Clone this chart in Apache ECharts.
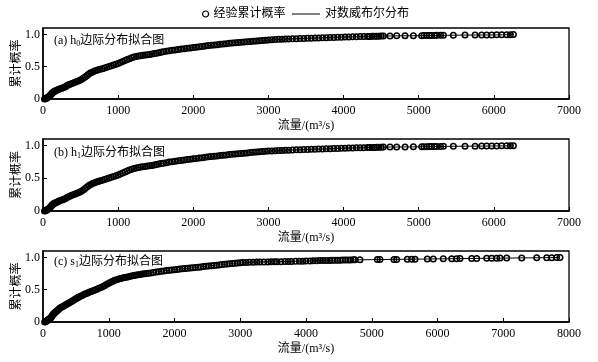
<!DOCTYPE html>
<html>
<head>
<meta charset="utf-8">
<script src="https://cdn.jsdelivr.net/npm/echarts@6/dist/echarts.min.js"></script>
<style>
html,body{margin:0;padding:0;background:#fff;}
#chart{width:598px;height:362px;}
</style>
</head>
<body>
<div id="chart"></div>
<script>
// ---- Data ----
// Panel (a) h0: empirical cumulative probability points
const h0Flow = [20,30,40,50,60,70,80,90,100,110,120,130,140,150,160,175,190,205,220,240,260,280,300,320,340,360,385,410,435,460,485,510,535,560,585,610,635,660,685,710,735,760,790,820,850,880,910,940,970,1000,1030,1060,1090,1120,1150,1180,1210,1240,1270,1300,1330,1360,1390,1420,1450,1480,1510,1540,1570,1600,1640,1680,1720,1760,1800,1840,1880,1920,1960,2000,2040,2080,2120,2160,2200,2240,2280,2320,2360,2400,2440,2480,2520,2560,2600,2640,2680,2720,2760,2800,2840,2880,2920,2960,3000,3045,3090,3135,3180,3225,3270,3320,3370,3420,3470,3520,3570,3620,3670,3720,3770,3820,3870,3920,3970,4020,4070,4120,4170,4220,4270,4320,4350,4380,4410,4440,4470,4500,4530,4618,4707,4818,4929,5040,5070,5107,5140,5173,5210,5240,5290,5329,5461,5616,5750,5838,5905,5972,6038,6105,6171,6220,6260];
const h0Prob = [0.000,0.003,0.008,0.015,0.022,0.030,0.040,0.050,0.062,0.075,0.088,0.100,0.110,0.117,0.123,0.130,0.138,0.146,0.155,0.163,0.172,0.181,0.190,0.208,0.219,0.230,0.241,0.252,0.263,0.275,0.287,0.302,0.320,0.342,0.365,0.388,0.405,0.419,0.432,0.443,0.452,0.461,0.470,0.481,0.492,0.503,0.515,0.527,0.539,0.551,0.565,0.580,0.596,0.611,0.625,0.638,0.649,0.658,0.665,0.671,0.676,0.681,0.686,0.691,0.697,0.703,0.710,0.717,0.724,0.731,0.739,0.747,0.754,0.760,0.767,0.773,0.779,0.785,0.791,0.797,0.803,0.809,0.815,0.821,0.827,0.832,0.837,0.842,0.847,0.852,0.857,0.862,0.867,0.871,0.875,0.879,0.884,0.888,0.892,0.896,0.900,0.904,0.908,0.912,0.915,0.918,0.921,0.924,0.926,0.928,0.930,0.932,0.934,0.936,0.938,0.940,0.942,0.944,0.946,0.948,0.950,0.952,0.954,0.956,0.958,0.960,0.962,0.964,0.966,0.967,0.968,0.969,0.970,0.971,0.972,0.973,0.974,0.975,0.976,0.977,0.978,0.979,0.980,0.981,0.982,0.983,0.984,0.985,0.985,0.986,0.987,0.988,0.989,0.990,0.991,0.992,0.993,0.993,0.994,0.995,0.996,0.997,0.998];
// Panel (a) h0: fitted log-Weibull curve
const h0FitFlow = [20,60,100,150,200,300,400,500,600,700,800,1000,1200,1400,1600,1800,2000,2400,2800,3200,3600,4000,4500,5000,5500,6000,6260];
const h0FitProb = [0.000,0.020,0.060,0.115,0.148,0.192,0.248,0.296,0.380,0.440,0.475,0.551,0.645,0.689,0.731,0.767,0.797,0.852,0.896,0.927,0.943,0.959,0.975,0.981,0.989,0.993,0.998];

// Panel (b) h1: reads the same as panel (a) in the reference
const h1Flow = h0Flow.slice();
const h1Prob = h0Prob.slice();
const h1FitFlow = h0FitFlow.slice();
const h1FitProb = h0FitProb.slice();

// Panel (c) s1
const s1Flow = [25,35,45,55,65,75,85,95,105,115,125,135,145,155,165,175,185,200,215,230,245,260,280,300,320,340,360,380,400,420,440,460,480,500,520,540,560,585,610,635,660,685,710,735,760,790,820,850,880,910,940,970,1000,1030,1060,1090,1120,1150,1180,1210,1240,1270,1300,1330,1360,1390,1420,1450,1480,1510,1540,1570,1600,1640,1680,1720,1760,1800,1840,1880,1920,1960,2000,2040,2080,2120,2160,2200,2240,2280,2320,2360,2400,2440,2480,2520,2560,2600,2640,2680,2720,2760,2800,2840,2880,2920,2960,3000,3040,3090,3140,3200,3250,3300,3360,3420,3470,3520,3560,3620,3680,3730,3780,3840,3900,3950,4000,4060,4110,4160,4210,4260,4310,4360,4400,4440,4480,4520,4560,4600,4640,4680,4720,4745,4821,5085,5125,5338,5379,5541,5607,5658,5845,5936,6088,6216,6292,6342,6520,6596,6748,6824,6900,6951,7052,7281,7509,7661,7737,7813,7863];
const s1Prob = [0.000,0.004,0.010,0.017,0.025,0.033,0.040,0.046,0.052,0.062,0.075,0.090,0.105,0.118,0.130,0.140,0.150,0.163,0.176,0.190,0.203,0.215,0.228,0.240,0.252,0.264,0.276,0.288,0.299,0.311,0.323,0.335,0.347,0.359,0.371,0.383,0.395,0.408,0.420,0.432,0.443,0.453,0.463,0.473,0.484,0.496,0.508,0.521,0.535,0.550,0.566,0.583,0.600,0.617,0.632,0.645,0.656,0.665,0.673,0.681,0.688,0.695,0.702,0.709,0.715,0.721,0.727,0.732,0.737,0.742,0.746,0.750,0.755,0.761,0.767,0.773,0.780,0.786,0.791,0.796,0.800,0.805,0.810,0.815,0.820,0.825,0.830,0.834,0.838,0.842,0.846,0.850,0.854,0.858,0.862,0.866,0.870,0.874,0.879,0.884,0.889,0.894,0.899,0.903,0.907,0.911,0.915,0.918,0.921,0.923,0.925,0.927,0.928,0.929,0.930,0.931,0.932,0.933,0.934,0.935,0.936,0.937,0.938,0.940,0.942,0.943,0.945,0.947,0.948,0.950,0.951,0.952,0.953,0.954,0.955,0.956,0.957,0.958,0.959,0.960,0.961,0.962,0.963,0.964,0.965,0.967,0.968,0.969,0.970,0.972,0.973,0.974,0.976,0.977,0.979,0.980,0.981,0.982,0.984,0.985,0.987,0.988,0.989,0.990,0.991,0.993,0.995,0.996,0.997,0.998,0.999];
const s1FitFlow = [25,65,105,150,200,300,400,500,600,700,800,900,1000,1200,1400,1600,1800,2000,2400,2800,3200,3600,4000,4500,5000,5500,6000,6500,7000,7500,7863];
const s1FitProb = [0.000,0.025,0.052,0.110,0.163,0.240,0.299,0.359,0.415,0.459,0.500,0.540,0.600,0.679,0.725,0.755,0.786,0.810,0.854,0.899,0.927,0.935,0.945,0.958,0.966,0.972,0.978,0.984,0.990,0.995,0.999];

// Axis settings / labels
const xMaxAB = 7000, xMaxC = 8000, xInterval = 1000;
const yMax = 1.1, yInterval = 0.5;
const panelTitles = ['(a) h{sub|0}边际分布拟合图', '(b) h{sub|1}边际分布拟合图', '(c) s{sub|1}边际分布拟合图'];
const xName = '流量/(m³/s)';
const yName = '累计概率';
const legendNames = ['经验累计概率', '对数威布尔分布'];

// ---- Chart ----
const FONT = "'Liberation Serif','Noto Sans CJK SC',serif";
const zip = (a, b) => a.map((v, i) => [v, b[i]]);

const grids = [
  {left: 43, right: 29, top: 28, height: 71},
  {left: 43, right: 29, top: 139, height: 72},
  {left: 43, right: 29, top: 251, height: 71}
].map(g => Object.assign(g, {show: true, borderColor: '#000', borderWidth: 1.3,
  backgroundColor: 'transparent', containLabel: false, outerBoundsMode: 'none'}));

const xMaxes = [xMaxAB, xMaxAB, xMaxC];
const xAxes = xMaxes.map((mx, i) => ({
  type: 'value', gridIndex: i, min: 0, max: mx, interval: xInterval,
  name: xName, nameLocation: 'middle', nameGap: 21, nameMoveOverlap: false,
  nameTextStyle: {fontFamily: FONT, fontSize: 12, color: '#000'},
  axisLine: {show: true, lineStyle: {color: '#000', width: 1.5}},
  axisTick: {show: true, inside: true, length: 4, lineStyle: {color: '#000', width: 1}},
  axisLabel: {fontFamily: FONT, fontSize: 12, color: '#000', margin: 6, formatter: v => String(v)},
  splitLine: {show: false}
}));
const yAxes = [0, 1, 2].map(i => ({
  type: 'value', gridIndex: i, min: 0, max: yMax, interval: yInterval,
  name: yName, nameLocation: 'middle', nameGap: 20, nameMoveOverlap: false,
  nameTextStyle: {fontFamily: FONT, fontSize: 12, color: '#000'},
  axisLine: {show: true, lineStyle: {color: '#000', width: 1.5}},
  axisTick: {show: true, inside: true, length: 4, lineStyle: {color: '#000', width: 1}},
  axisLabel: {fontFamily: FONT, fontSize: 12, color: '#000', margin: 3, showMaxLabel: false,
    formatter: v => (v === 0 ? '0' : (Math.abs(v - 1.1) < 1e-6 ? '' : v.toFixed(1)))},
  splitLine: {show: false}
}));

const empirical = [zip(h0Flow, h0Prob), zip(h1Flow, h1Prob), zip(s1Flow, s1Prob)];
const fitted = [zip(h0FitFlow, h0FitProb), zip(h1FitFlow, h1FitProb), zip(s1FitFlow, s1FitProb)];

const series = [];
for (let i = 0; i < 3; i++) {
  series.push({
    name: legendNames[1], type: 'line', xAxisIndex: i, yAxisIndex: i,
    data: fitted[i], symbol: 'none', smooth: 0.3,
    itemStyle: {color: '#000'},
    lineStyle: {color: '#000', width: 1}, z: 2, silent: true
  });
  series.push({
    name: legendNames[0], type: 'scatter', xAxisIndex: i, yAxisIndex: i,
    data: empirical[i], symbol: 'circle', symbolSize: 5.5,
    itemStyle: {color: 'rgba(0,0,0,0)', borderColor: '#000', borderWidth: 1.5, opacity: 1},
    z: 3, silent: true
  });
}

const titleTops = [34, 146, 255];
const titles = panelTitles.map((t, i) => ({
  text: t, left: 54, top: titleTops[i], padding: 0,
  textStyle: {fontFamily: FONT, fontSize: 12, fontWeight: 'normal', color: '#000',
    rich: {sub: {fontFamily: FONT, fontSize: 8, color: '#000', padding: [6, 0, 0, 0]}}}
}));

const option = {
  animation: false,
  backgroundColor: '#fff',
  title: titles,
  legend: [
    {data: [legendNames[0]], left: 202, top: 8, padding: 0, itemWidth: 6, itemHeight: 6, itemGap: 5,
     textStyle: {fontFamily: FONT, fontSize: 12, color: '#000'}, icon: 'circle',
     itemStyle: {color: 'rgba(0,0,0,0)', borderColor: '#000', borderWidth: 1.2}},
    {data: [legendNames[1]], left: 292, top: 8, padding: 0, itemWidth: 28, itemHeight: 1, itemGap: 5,
     textStyle: {fontFamily: FONT, fontSize: 12, color: '#000'}, icon: 'rect',
     itemStyle: {color: '#000', borderWidth: 0}}
  ],
  grid: grids,
  xAxis: xAxes,
  yAxis: yAxes,
  series: series
};

const chart = echarts.init(document.getElementById('chart'), null, {renderer: 'canvas'});
chart.setOption(option);
</script>
</body>
</html>
